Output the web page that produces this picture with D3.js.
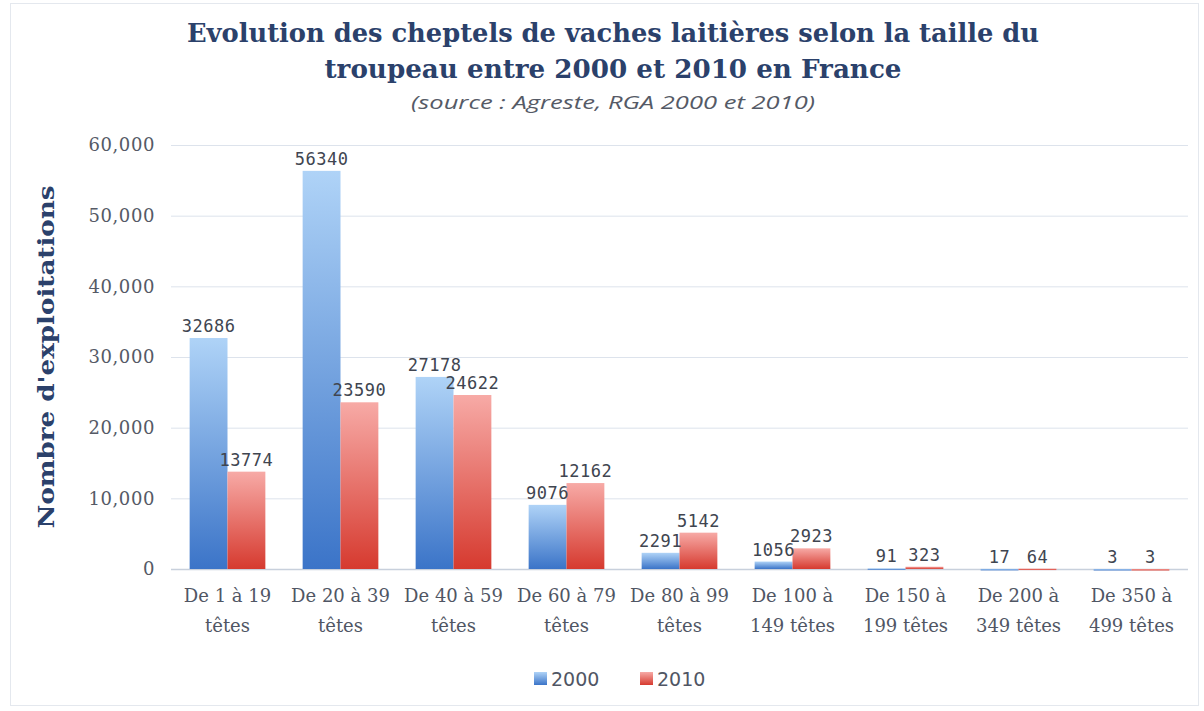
<!DOCTYPE html>
<html lang="fr">
<head>
<meta charset="UTF-8">
<title>Cheptels de vaches laitières</title>
<script src="https://cdn.jsdelivr.net/npm/d3@7"></script>
<style>
  body { margin: 0; background: #ffffff; }
  svg { display: block; }
</style>
</head>
<body>
<svg class="chart"></svg>
<script>
    // données
    const categories = [
        ["De 1 à 19", "têtes"],
        ["De 20 à 39", "têtes"],
        ["De 40 à 59", "têtes"],
        ["De 60 à 79", "têtes"],
        ["De 80 à 99", "têtes"],
        ["De 100 à", "149 têtes"],
        ["De 150 à", "199 têtes"],
        ["De 200 à", "349 têtes"],
        ["De 350 à", "499 têtes"]
    ];
    const years = ["2000", "2010"];
    const values2000 = [32686, 56340, 27178, 9076, 2291, 1056, 91, 17, 3];
    const values2010 = [13774, 23590, 24622, 12162, 5142, 2923, 323, 64, 3];
    const yTicks = [0, 10000, 20000, 30000, 40000, 50000, 60000];

    const width = 1204, height = 711;
    const margin = { top: 145, right: 16, bottom: 142, left: 171 };

    const svg = d3.select(".chart").attr("width", width).attr("height", height);

    // dégradés
    const defs = svg.append("defs");
    const grads = [
        { id: "g2000", top: "#afd3f7", bottom: "#3b74c8" },
        { id: "g2010", top: "#f7aaa6", bottom: "#d63a2f" }
    ];
    grads.forEach(g => {
        const lg = defs.append("linearGradient").attr("id", g.id)
            .attr("x1", 0).attr("y1", 0).attr("x2", 0).attr("y2", 1);
        lg.append("stop").attr("offset", "0%").attr("stop-color", g.top);
        lg.append("stop").attr("offset", "100%").attr("stop-color", g.bottom);
    });

    // cadre
    svg.append("rect")
        .attr("x", 10.5).attr("y", 3.5)
        .attr("width", 1188).attr("height", 702)
        .attr("fill", "none").attr("stroke", "#e4e8ee").attr("stroke-width", 1);

    const x0 = d3.scaleBand()
        .domain(d3.range(categories.length))
        .range([margin.left, width - margin.right])
        .paddingInner(0.33).paddingOuter(0.165);
    const x1 = d3.scaleBand().domain(years).range([0, x0.bandwidth()]);
    const y = d3.scaleLinear().domain([0, 60000]).range([height - margin.bottom, margin.top]);

    // grille
    svg.append("g").selectAll("line")
        .data(yTicks)
        .join("line")
        .attr("x1", margin.left).attr("x2", width - margin.right)
        .attr("y1", d => y(d) + 0.5).attr("y2", d => y(d) + 0.5)
        .attr("stroke", d => d === 0 ? "#c8d0dc" : "#dde3ec")
        .attr("stroke-width", d => d === 0 ? 1.5 : 1);

    // axe Y
    const yAxis = svg.append("g")
        .attr("transform", `translate(${margin.left - 13},0)`)
        .call(d3.axisLeft(y).tickValues(yTicks).tickSize(0).tickFormat(d3.format(",")));
    yAxis.select(".domain").remove();
    yAxis.selectAll("text")
        .attr("font-family", "DejaVu Serif, serif")
        .attr("font-size", 18)
        .attr("letter-spacing", 0.6)
        .attr("fill", "#555a66")
        .attr("dy", "0.32em");

    // barres
    const rows = categories.map((c, i) => ({
        i,
        vals: years.map((yr, k) => ({ year: yr, v: k === 0 ? values2000[i] : values2010[i] }))
    }));
    const groups = svg.append("g").selectAll("g")
        .data(rows)
        .join("g")
        .attr("transform", d => `translate(${x0(d.i)},0)`);

    groups.selectAll("rect")
        .data(d => d.vals)
        .join("rect")
        .attr("x", d => x1(d.year))
        .attr("y", d => y(d.v))
        .attr("width", x1.bandwidth())
        .attr("height", d => Math.max(y(0) - y(d.v), d.v > 0 ? 1.5 : 0))
        .attr("fill", d => `url(#g${d.year})`);

    groups.selectAll("text.val")
        .data(d => d.vals)
        .join("text")
        .attr("class", "val")
        .attr("x", d => x1(d.year) + x1.bandwidth() / 2)
        .attr("y", d => y(d.v) - 6)
        .attr("text-anchor", "middle")
        .attr("font-family", "DejaVu Sans Mono, monospace")
        .attr("font-size", 17)
        .attr("letter-spacing", 0.5)
        .attr("fill", "#404550")
        .text(d => d.v);

    // étiquettes des catégories
    const xLab = svg.append("g").selectAll("text")
        .data(categories)
        .join("text")
        .attr("text-anchor", "middle")
        .attr("font-family", "DejaVu Serif, serif")
        .attr("font-size", 18)
        .attr("fill", "#505664")
        .attr("transform", (d, i) => `translate(${x0(i) + x0.bandwidth() / 2},${height - margin.bottom + 33})`);
    xLab.selectAll("tspan")
        .data(d => d)
        .join("tspan")
        .attr("x", 0)
        .attr("dy", (d, k) => k === 0 ? 0 : 30)
        .text(d => d);

    // titre
    const title = [
        { t: "Evolution des cheptels de vaches laitières selon la taille du", y: 42, len: 852 },
        { t: "troupeau entre 2000 et 2010 en France", y: 78, len: 577 }
    ];
    svg.append("g").selectAll("text")
        .data(title)
        .join("text")
        .attr("x", 613).attr("y", d => d.y)
        .attr("text-anchor", "middle")
        .attr("font-family", "DejaVu Serif Condensed, DejaVu Serif, serif")
        .attr("font-weight", "bold")
        .attr("font-size", 26)
        .attr("fill", "#2b416b")
        .attr("textLength", d => d.len)
        .attr("lengthAdjust", "spacingAndGlyphs")
        .text(d => d.t);

    svg.append("text")
        .attr("x", 613).attr("y", 109)
        .attr("text-anchor", "middle")
        .attr("font-family", "Liberation Sans Narrow, Open Sans, sans-serif")
        .attr("font-style", "italic")
        .attr("font-size", 19)
        .attr("fill", "#555a66")
        .attr("textLength", 404)
        .attr("lengthAdjust", "spacingAndGlyphs")
        .text("(source : Agreste, RGA 2000 et 2010)");

    // titre axe Y
    svg.append("text")
        .attr("transform", "translate(54,357) rotate(-90)")
        .attr("text-anchor", "middle")
        .attr("font-family", "DejaVu Serif Condensed, DejaVu Serif, serif")
        .attr("font-weight", "bold")
        .attr("font-size", 23)
        .attr("fill", "#2b416b")
        .attr("textLength", 343)
        .attr("lengthAdjust", "spacingAndGlyphs")
        .text("Nombre d'exploitations");

    // légende
    const legend = svg.append("g").selectAll("g")
        .data(years)
        .join("g")
        .attr("transform", (d, i) => `translate(${534 + i * 106},672)`);
    legend.append("rect")
        .attr("width", 13).attr("height", 13)
        .attr("fill", d => `url(#g${d})`);
    legend.append("text")
        .attr("x", 17).attr("y", 14)
        .attr("font-family", "DejaVu Sans, sans-serif")
        .attr("font-size", 19)
        .attr("fill", "#505664")
        .text(d => d);
</script>
</body>
</html>
